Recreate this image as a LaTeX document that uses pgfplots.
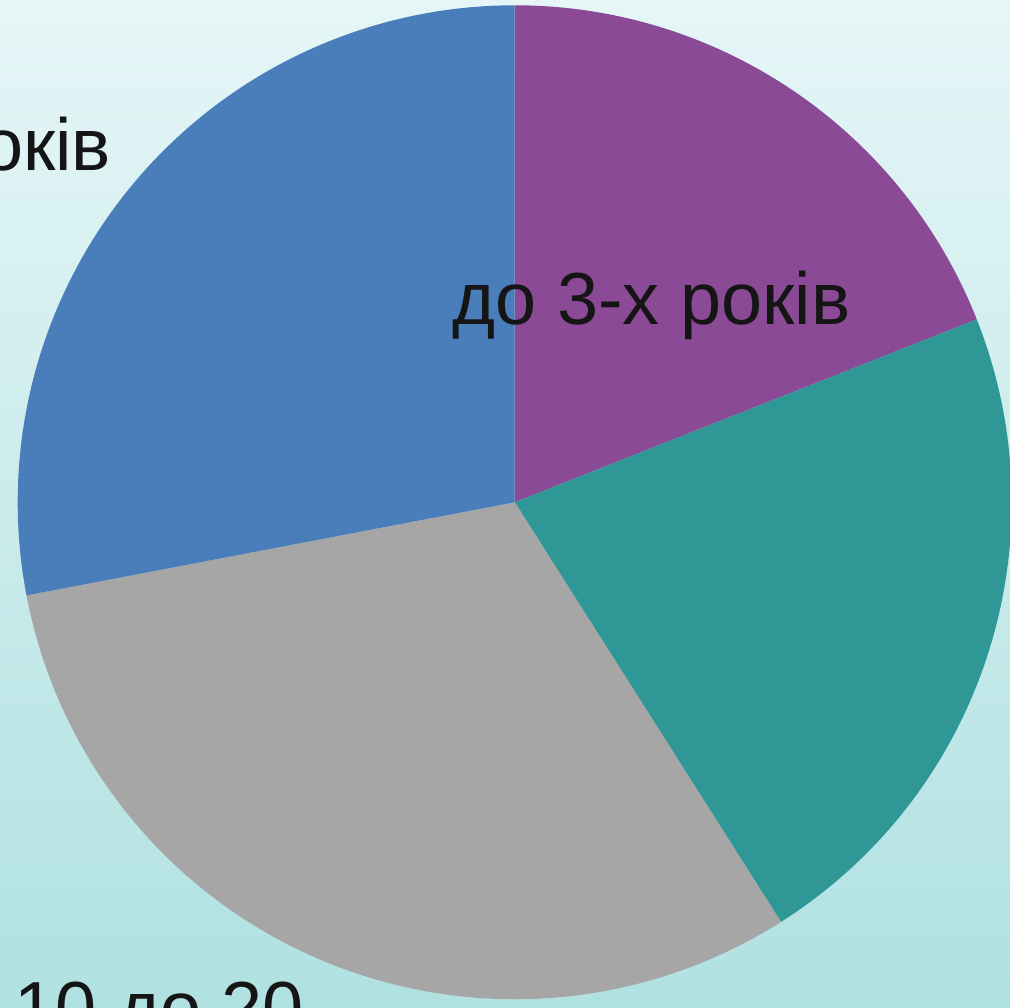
\documentclass[border=0pt]{standalone}
\usepackage{pgfplots}
\pgfplotsset{compat=1.18}
\usepackage{pgfplotstable}
\usepackage{fontspec}
\setmainfont{Liberation Sans}
\definecolor{pieA}{HTML}{8A4A96}
\definecolor{pieB}{HTML}{2F9796}
\definecolor{pieC}{HTML}{A6A6A6}
\definecolor{pieD}{HTML}{4A7EBB}
\definecolor{bgtop}{HTML}{E6F6F7}
\definecolor{bgbot}{HTML}{B0E1E1}
\definecolor{txt}{HTML}{151515}
% shares (%) clockwise from 12 o'clock
\pgfplotstableread{
share
19
22
31
28
}\piedata
\pgfplotstablegetelem{0}{share}\of\piedata \let\sA\pgfplotsretval
\pgfplotstablegetelem{1}{share}\of\piedata \let\sB\pgfplotsretval
\pgfplotstablegetelem{2}{share}\of\piedata \let\sC\pgfplotsretval
\pgfplotstablegetelem{3}{share}\of\piedata \let\sD\pgfplotsretval
\pgfmathsetmacro\aA{90}
\pgfmathsetmacro\aB{\aA-3.6*\sA}
\pgfmathsetmacro\aC{\aB-3.6*\sB}
\pgfmathsetmacro\aD{\aC-3.6*\sC}
\pgfmathsetmacro\aE{\aD-3.6*\sD}
\begin{document}
\begin{tikzpicture}
\useasboundingbox (0,0) rectangle (10.10,10.08);
\clip (0,0) rectangle (10.10,10.08);
\shade[top color=bgtop, bottom color=bgbot] (0,0) rectangle (10.10,10.08);
\begin{axis}[
  x=0.01cm, y=0.01cm,
  xmin=0, xmax=1010, ymin=0, ymax=1008,
  hide axis, at={(0,0)}, anchor=south west,
  clip=false,
]
\fill[pieA] (axis cs:515,506) -- ++(\aA:4.97cm) arc[start angle=\aA, end angle=\aB, radius=4.97cm] -- cycle;
\fill[pieB] (axis cs:515,506) -- ++(\aB:4.97cm) arc[start angle=\aB, end angle=\aC, radius=4.97cm] -- cycle;
\fill[pieC] (axis cs:515,506) -- ++(\aC:4.97cm) arc[start angle=\aC, end angle=\aD, radius=4.97cm] -- cycle;
\fill[pieD] (axis cs:515,506) -- ++(\aD:4.97cm) arc[start angle=\aD, end angle=\aE, radius=4.97cm] -- cycle;
\node[anchor=base, text=txt, font=\fontsize{21}{25}\selectfont, inner sep=0pt] at (axis cs:652,684) {до 3-х років};
\node[anchor=base east, text=txt, font=\fontsize{21}{25}\selectfont, inner sep=0pt] at (axis cs:112,838) {від 3 до 10 років};
\node[anchor=base east, text=txt, font=\fontsize{21}{25}\selectfont, inner sep=0pt] at (axis cs:305,-26) {від 10 до 20};
\end{axis}
\end{tikzpicture}
\end{document}
